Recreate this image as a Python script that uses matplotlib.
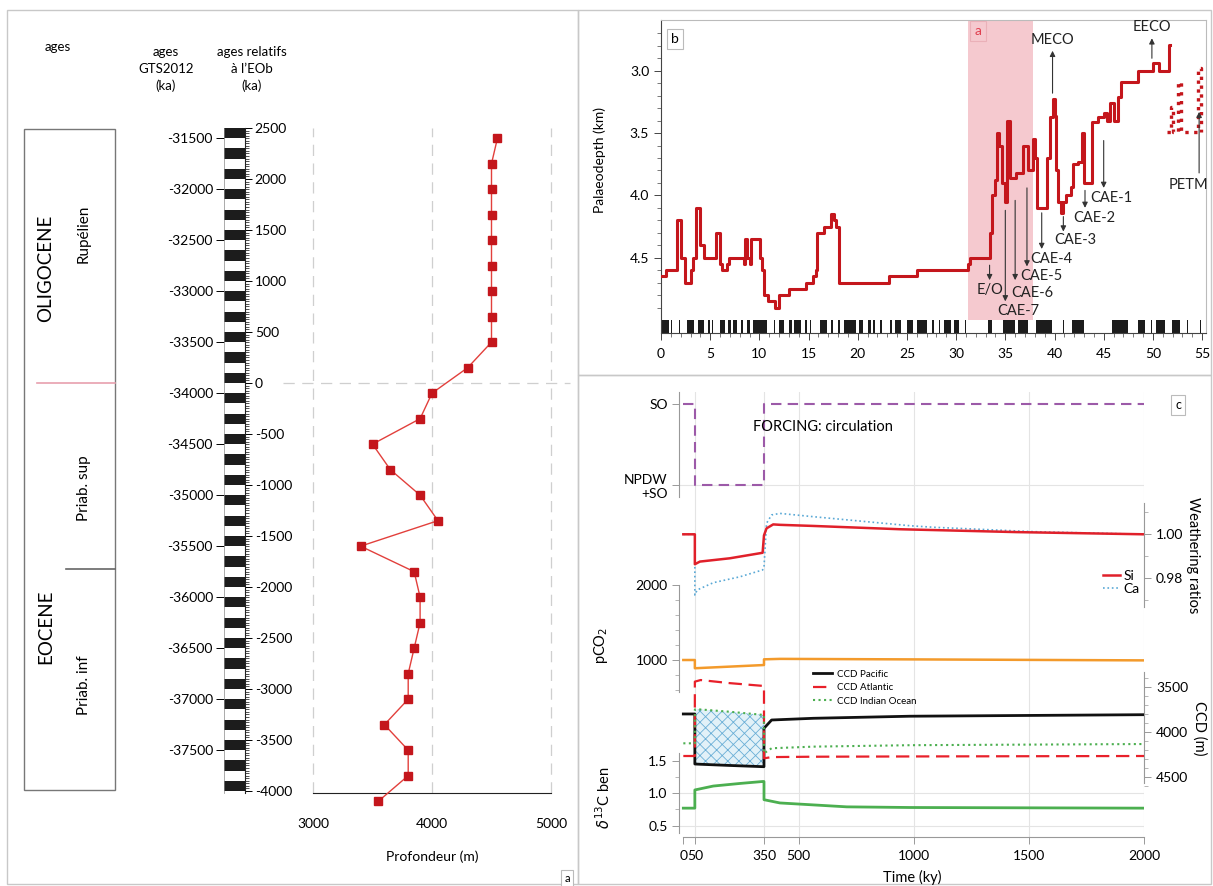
import matplotlib
matplotlib.use('Agg')
import matplotlib.pyplot as plt
from matplotlib.patches import Rectangle
from matplotlib.lines import Line2D
from matplotlib.ticker import FixedLocator, FormatStrFormatter

plt.rcParams['font.family'] = ['Lato', 'DejaVu Sans']
plt.rcParams['font.size'] = 10
plt.rcParams['axes.unicode_minus'] = False
plt.rcParams['hatch.linewidth'] = 0.6

# ---- panel a : depth vs relative age ----
rel_age = [2400, 2150, 1900, 1650, 1400, 1150, 900, 650, 400, 150, -100, -350, -600, -850,
           -1100, -1350, -1600, -1850, -2100, -2350, -2600, -2850, -3100, -3350, -3600, -3850, -4100]
depth_m = [4550, 4500, 4500, 4500, 4500, 4500, 4500, 4500, 4500, 4300, 4000, 3900, 3500, 3650,
           3900, 4050, 3400, 3850, 3900, 3900, 3850, 3800, 3800, 3600, 3800, 3800, 3550]
rel_ticks = [2500, 2000, 1500, 1000, 500, 0, -500, -1000, -1500, -2000, -2500, -3000, -3500, -4000]
gts_ticks = [-31500, -32000, -32500, -33000, -33500, -34000, -34500, -35000, -35500, -36000,
             -36500, -37000, -37500, -38000]
gts_offset = 33900
# tops of the black bands of the cycle ruler (100 ka thick)
cycle_tops = [2500, 2300, 2100, 1900, 1700, 1500, 1300, 1100, 900, 700, 500, 300, 100, -100,
              -300, -500, -700, -900, -1100, -1300, -1500, -1700, -1900, -2100, -2300, -2500,
              -2700, -2900, -3100, -3300, -3500, -3700, -3900]

# ---- panel b : palaeodepth ----
age_ma = [0.0, 0.5, 1.6, 2.05, 2.4, 3.0, 3.25, 3.6, 4.0, 4.4, 5.6, 6.0, 6.2, 6.7, 6.9, 8.4, 8.55,
          8.75, 9.0, 9.15, 10.1, 10.25, 10.45, 10.9, 11.6, 12.0, 13.0, 14.7, 15.5, 15.75, 15.9,
          16.6, 17.3, 17.6, 17.8, 18.1, 23.2, 26.0, 31.2, 31.4, 33.4, 33.6, 34.0, 34.2, 34.4,
          34.7, 34.95, 35.2, 35.5, 36.1, 36.8, 37.3, 37.8, 38.0, 38.2, 39.2, 39.5, 39.8, 40.0,
          40.2, 40.4, 40.7, 40.9, 41.2, 41.7, 41.9, 42.4, 42.8, 42.95, 43.8, 44.4, 45.0, 45.3,
          45.6, 46.0, 46.5, 46.8, 48.5, 50.0, 50.6, 51.6, 51.75]
pdepth_km = [4.65, 4.60, 4.20, 4.50, 4.70, 4.60, 4.50, 4.10, 4.40, 4.50, 4.30, 4.55, 4.60, 4.55,
             4.50, 4.55, 4.35, 4.50, 4.55, 4.35, 4.50, 4.60, 4.80, 4.85, 4.90, 4.80, 4.75, 4.70,
             4.65, 4.60, 4.30, 4.25, 4.15, 4.20, 4.25, 4.70, 4.65, 4.60, 4.55, 4.50, 4.30, 4.00,
             3.88, 3.50, 3.60, 3.90, 4.05, 3.40, 3.86, 3.82, 3.60, 3.80, 3.55, 3.70, 4.10, 3.70,
             3.37, 3.23, 3.36, 3.80, 4.05, 4.14, 4.05, 4.00, 3.93, 3.75, 3.73, 3.50, 3.90, 3.41,
             3.37, 3.34, 3.40, 3.26, 3.40, 3.21, 3.09, 3.00, 2.94, 3.00, 2.79, 2.79]
petm_age = [51.4, 51.8, 51.8, 52.0, 52.0, 52.6, 52.6, 52.9, 52.9, 54.6, 54.6, 54.9, 54.9]
petm_depth = [3.49, 3.49, 3.29, 3.29, 3.49, 3.49, 3.09, 3.09, 3.49, 3.49, 2.98, 2.98, 3.49]
normal_chrons = [(0.0, 0.85), (1.0, 1.1), (1.8, 1.95), (2.6, 3.0), (3.1, 3.4), (3.75, 4.4),
                 (4.8, 5.0), (5.2, 5.3), (6.0, 6.5), (6.8, 7.1), (7.3, 7.7), (8.1, 8.3),
                 (8.7, 9.0), (9.4, 10.8), (11.5, 11.6), (12.0, 12.5), (13.0, 13.3), (13.5, 14.2),
                 (14.6, 14.8), (15.1, 15.2), (16.2, 16.9), (17.3, 17.5), (18.0, 18.2), (18.6, 19.8),
                 (20.1, 20.5), (21.0, 21.3), (21.6, 21.8), (22.3, 22.5), (23.3, 23.5), (23.8, 24.4),
                 (25.0, 25.6), (26.0, 27.0), (27.5, 27.8), (28.3, 28.4), (28.8, 29.5), (29.8, 30.3),
                 (30.9, 31.0), (33.2, 33.6), (34.8, 36.0), (36.3, 37.3), (38.1, 39.7), (40.9, 41.0),
                 (41.8, 43.0), (45.8, 47.5), (48.5, 49.2), (49.8, 49.9), (50.3, 51.2), (51.9, 52.8),
                 (53.5, 53.6), (54.8, 54.9)]
event_span = (31.2, 37.8)
# label, arrow age, arrow from, arrow to, text age, text depth
events = [('MECO', 39.8, 3.18, 2.84, 39.8, 2.75),
          ('EECO', 49.9, 2.90, 2.74, 49.9, 2.65),
          ('PETM', 54.7, 3.82, 3.33, 53.6, 3.92),
          ('CAE-1', 45.0, 3.56, 3.94, 45.8, 4.02),
          ('CAE-2', 43.1, 3.96, 4.10, 44.0, 4.18),
          ('CAE-3', 40.9, 4.17, 4.29, 42.1, 4.36),
          ('CAE-4', 38.7, 4.14, 4.43, 39.7, 4.51),
          ('CAE-5', 37.2, 3.94, 4.57, 38.7, 4.65),
          ('CAE-6', 36.0, 4.04, 4.68, 37.7, 4.78),
          ('E/O', 33.4, 4.56, 4.68, 33.4, 4.76),
          ('CAE-7', 35.0, 4.12, 4.85, 36.3, 4.93)]

# ---- panel c : model experiment ----
circ_t = [0, 50, 50, 350, 350, 2000]
circ_state = [1, 1, 0, 0, 1, 1]
si_t = [0, 50, 50, 72, 202, 344, 350, 361, 390, 420, 564, 940, 1446, 2000]
si_ratio = [1.000, 1.000, 0.9864, 0.9876, 0.9891, 0.9916, 0.9995, 1.0027, 1.0045, 1.0043,
            1.0038, 1.0023, 1.0010, 1.0000]
ca_t = [0, 50, 50, 60, 130, 246, 344, 350, 361, 383, 419, 564, 983, 1085, 1519, 2000]
ca_ratio = [1.000, 1.000, 0.9724, 0.9747, 0.9780, 0.9807, 0.9838, 0.9850, 1.0050, 1.0088,
            1.0095, 1.0080, 1.0039, 1.0032, 1.0012, 1.0000]
co2_t = [0, 50, 50, 350, 350, 420, 1000, 2000]
pco2 = [1000, 1000, 890, 933, 1009, 1015, 1008, 995]
ccd_t = [0, 50, 50, 75, 200, 350, 350, 383, 564, 983, 2000]
ccd_pacific = [3803, 3803, 4359, 4362, 4375, 4389, 3962, 3870, 3851, 3828, 3811]
ccd_atlantic = [4270, 4270, 3444, 3426, 3460, 3492, 4296, 4282, 4278, 4275, 4270]
ccd_indian = [4129, 4129, 3753, 3753, 3778, 3814, 4240, 4184, 4166, 4150, 4137]
d13c_t = [0, 50, 50, 130, 246, 344, 350, 350, 419, 564, 709, 983, 2000]
d13c = [0.77, 0.77, 1.05, 1.11, 1.15, 1.18, 1.18, 0.90, 0.85, 0.82, 0.79, 0.78, 0.77]
time_ticks = [0, 50, 350, 500, 1000, 1500, 2000]

W, H = 1213, 886


def fx(px):
    return px / W


def fy(py):
    return 1 - py / H


def box(x0, y0, x1, y1):
    return [fx(x0), fy(y1), (x1 - x0) / W, (y1 - y0) / H]


def lim_for(v1, p1, v2, p2, top=392, bottom=837):
    # y limits so that value v1 sits at pixel row p1 and v2 at p2
    b = (p2 - p1) / (v2 - v1)
    return (bottom - p1) / b + v1, (top - p1) / b + v1


def val_at(v1, p1, v2, p2, p):
    b = (p2 - p1) / (v2 - v1)
    return (p - p1) / b + v1


fig = plt.figure(figsize=(W / 100, H / 100), dpi=100)

# panel frames
frame_c = '#c8c8c8'
fig.add_artist(Rectangle((fx(7), fy(884)), fx(578) - fx(7), (884 - 10) / H,
                         transform=fig.transFigure, fill=False, ec=frame_c, lw=1))
fig.add_artist(Rectangle((fx(578), fy(375)), fx(1211) - fx(578), (375 - 10) / H,
                         transform=fig.transFigure, fill=False, ec=frame_c, lw=1))
fig.add_artist(Rectangle((fx(578), fy(884)), fx(1211) - fx(578), (884 - 375) / H,
                         transform=fig.transFigure, fill=False, ec=frame_c, lw=1))

# ---------------- left panel ----------------
fig.text(fx(58), fy(47), 'ages', ha='center', va='center', fontsize=9.5)
fig.text(fx(166), fy(69), 'ages\nGTS2012\n(ka)', ha='center', va='center', fontsize=9.5,
         linespacing=1.5)
fig.text(fx(252), fy(69), 'ages relatifs\nà l’EOb\n(ka)', ha='center', va='center',
         fontsize=9.5, linespacing=1.5)

fig.add_artist(Rectangle((fx(24), fy(790)), fx(115) - fx(24), (790 - 129) / H,
                         transform=fig.transFigure, fill=False, ec='#777777', lw=1))
fig.add_artist(Line2D([fx(37), fx(115)], [fy(383), fy(383)], transform=fig.transFigure,
                      color='#e8a0ae', lw=1.2))
fig.add_artist(Line2D([fx(66), fx(115)], [fy(569), fy(569)], transform=fig.transFigure,
                      color='#666666', lw=1.2))
fig.text(fx(46), fy(268), 'OLIGOCENE', rotation=90, ha='center', va='center', fontsize=13.5)
fig.text(fx(84), fy(234), 'Rupélien', rotation=90, ha='center', va='center', fontsize=11)
fig.text(fx(84), fy(488), 'Priab. sup', rotation=90, ha='center', va='center', fontsize=11)
fig.text(fx(46), fy(627), 'EOCENE', rotation=90, ha='center', va='center', fontsize=13.5)
fig.text(fx(84), fy(685), 'Priab. inf', rotation=90, ha='center', va='center', fontsize=11)

# cycle ruler with the two age scales
axr = fig.add_axes(box(224, 128, 245, 793))
axr.set_ylim(-4020, 2500)
axr.set_xlim(0, 1)
axr.barh([t - 50 for t in cycle_tops], 1, height=100, left=0, color='#1c1c1c', lw=0)
axr.set_xticks([])
for s in ['top', 'bottom']:
    axr.spines[s].set_visible(False)
axr.spines['left'].set_color('#888888')
axr.spines['left'].set_linewidth(0.5)
axr.spines['right'].set_color('#222222')
axr.spines['right'].set_linewidth(0.8)
axr.yaxis.tick_right()
axr.set_yticks(rel_ticks)
axr.yaxis.set_minor_locator(FixedLocator(list(range(-4000, 2501, 25))))
axr.tick_params(axis='y', which='major', length=5, width=0.7, pad=2, labelsize=10)
axr.tick_params(axis='y', which='minor', length=3, width=0.6, color='#333333')
sec = axr.secondary_yaxis('left', functions=(lambda r: r - gts_offset, lambda g: g + gts_offset))
sec.set_yticks(gts_ticks)
sec.spines['left'].set_visible(False)
sec.tick_params(axis='y', length=6, width=0.7, pad=2, labelsize=10)

axl = fig.add_axes(box(313, 128, 551, 793))
axl.set_xlim(3000, 5000)
axl.set_ylim(-4020, 2500)
axl.patch.set_alpha(0)
for d in [3000, 4000, 5000]:
    axl.axvline(d, ls=(0, (9, 6)), color='#cfcfcf', lw=0.9, clip_on=False, zorder=0)
axl.plot([2748, 5160], [0, 0], ls=(0, (9, 6)), color='#cfcfcf', lw=0.9, clip_on=False)
axl.plot(depth_m, rel_age, color='#e2403c', lw=1, marker='s', ms=5.5, mfc='#c4161c',
         mec='#c4161c', clip_on=False, zorder=3)
axl.set_xticks([3000, 4000, 5000])
axl.set_yticks([])
axl.tick_params(axis='x', length=0, pad=18, labelsize=10)
for s in ['left', 'right', 'top']:
    axl.spines[s].set_visible(False)
axl.spines['bottom'].set_color('#222222')
axl.set_xlabel('Profondeur (m)', labelpad=15, fontsize=10)
fig.text(fx(567), fy(879), 'a', ha='center', va='center', fontsize=8,
         bbox=dict(boxstyle='square,pad=0.3', fc='white', ec='#bbbbbb', lw=0.8))

# ---------------- panel b ----------------
axt = fig.add_axes(box(661, 20, 1206, 333))
axt.set_xlim(0, 55.4)
axt.set_ylim(5.104, 2.593)
axt.axvspan(event_span[0], event_span[1], ymin=0.041, ymax=1, color='#f5c9cf', lw=0, zorder=0)
axt.broken_barh([(a, b - a) for a, b in normal_chrons], (5.0, 0.104), facecolors='#1c1c1c',
                lw=0)
axt.step(age_ma, pdepth_km, where='post', color='#c4161c', lw=2.2, zorder=3)
axt.plot(petm_age, petm_depth, color='#c4161c', lw=2.4, ls=':', zorder=3)
for name, xa, y0, y1, xt, yt in events:
    axt.annotate('', xy=(xa, y1), xytext=(xa, y0),
                 arrowprops=dict(arrowstyle='-|>', color='#333333', lw=0.8,
                                 mutation_scale=8, shrinkA=0, shrinkB=0))
    axt.text(xt, yt, name, ha='center', va='center', fontsize=10.5, color='#222222', zorder=4)
axt.set_xticks(list(range(0, 56, 5)))
axt.xaxis.set_minor_locator(FixedLocator(list(range(0, 56))))
axt.yaxis.set_major_locator(FixedLocator([3.0, 3.5, 4.0, 4.5]))
axt.yaxis.set_major_formatter(FormatStrFormatter('%.1f'))
axt.yaxis.set_minor_locator(FixedLocator([2.7, 2.8, 2.9, 3.1, 3.2, 3.3, 3.4, 3.6, 3.7, 3.8,
                                          3.9, 4.1, 4.2, 4.3, 4.4, 4.6, 4.7, 4.8, 4.9]))
axt.tick_params(which='major', length=5, width=0.7, labelsize=10, color='#444444')
axt.tick_params(which='minor', length=3, width=0.5, color='#444444')
axt.tick_params(axis='x', pad=6)
for s in ['top', 'right']:
    axt.spines[s].set_color('#bbbbbb')
for s in ['left', 'bottom']:
    axt.spines[s].set_color('#444444')
fig.text(fx(600), fy(160), 'Palaeodepth (km)', rotation=90, ha='center', va='center',
         fontsize=10)
fig.text(fx(675), fy(39), 'b', ha='center', va='center', fontsize=10,
         bbox=dict(boxstyle='square,pad=0.3', fc='white', ec='#bbbbbb', lw=0.8))
fig.text(fx(978), fy(31), 'a', ha='center', va='center', fontsize=10, color='#e04050',
         bbox=dict(boxstyle='square,pad=0.3', fc='#f5c9cf', ec='#eab0b8', lw=0.8))

# ---------------- panel c ----------------
rect = box(679.4, 392, 1144.3, 837)
grid_c = '#e4e4e4'

axc = fig.add_axes(rect)
axc.set_xlim(-17, 2000)
axc.set_ylim(*lim_for(1, 404, 0, 485))
axc.patch.set_alpha(0)
for t in time_ticks[1:]:
    axc.axvline(t, color=grid_c, lw=0.8, zorder=0)
axc.axhline(0, color=grid_c, lw=0.8, zorder=0)
axc.plot(circ_t, circ_state, color='#9c5aa8', lw=1.5, ls=(0, (5, 3)))
axc.set_yticks([0, 1])
axc.set_yticklabels(['NPDW\n+SO', 'SO'])
axc.spines['left'].set_bounds(val_at(1, 404, 0, 485, 497), val_at(1, 404, 0, 485, 392))
axc.spines['bottom'].set_bounds(0, 2000)
for s in ['top', 'right']:
    axc.spines[s].set_visible(False)
for s in ['left', 'bottom']:
    axc.spines[s].set_color('#999999')
axc.set_xticks(time_ticks)
axc.tick_params(length=5, width=0.7, labelsize=10, color='#999999')
axc.tick_params(axis='x', pad=4)
fig.text(fx(823), fy(427), 'FORCING: circulation', ha='center', va='center', fontsize=10.5)


def overlay(side, v1, p1, v2, p2, ptop, pbot):
    ax = fig.add_axes(rect, sharex=axc, label=f'{side}{v1}')
    ax.patch.set_alpha(0)
    ax.set_ylim(*lim_for(v1, p1, v2, p2))
    ax.xaxis.set_visible(False)
    for s in ['top', 'bottom', 'left', 'right']:
        if s != side:
            ax.spines[s].set_visible(False)
    ax.spines[side].set_color('#999999')
    ax.spines[side].set_bounds(val_at(v1, p1, v2, p2, pbot), val_at(v1, p1, v2, p2, ptop))
    if side == 'right':
        ax.yaxis.tick_right()
    ax.tick_params(which='major', length=5, width=0.7, labelsize=10, color='#999999')
    ax.tick_params(which='minor', length=3, width=0.5, color='#999999')
    return ax


axw = overlay('right', 1.00, 534.3, 0.98, 578.3, 503, 607)
axw.plot(ca_t, ca_ratio, color='#5aa9d6', lw=1.2, ls=':', label='Ca')
axw.plot(si_t, si_ratio, color='#e0202a', lw=1.8, label='Si')
axw.yaxis.set_major_locator(FixedLocator([0.98, 1.00]))
axw.yaxis.set_major_formatter(FormatStrFormatter('%.2f'))
axw.yaxis.set_minor_locator(FixedLocator([0.97, 0.99, 1.01]))
h, lab = axw.get_legend_handles_labels()
axw.legend(h[::-1], lab[::-1], loc='upper left', bbox_to_anchor=(fx(1096), fy(563)),
           bbox_transform=fig.transFigure, frameon=False, fontsize=10, handlelength=1.2,
           handletextpad=0.3, labelspacing=0.1, borderpad=0)
fig.text(fx(1193), fy(555), 'Weathering ratios', rotation=270, ha='center', va='center',
         fontsize=10.5)

axp = overlay('left', 2000, 585, 1000, 660, 585, 692)
axp.plot(co2_t, pco2, color='#f39a2b', lw=1.8)
axp.yaxis.set_major_locator(FixedLocator([1000, 2000]))
axp.yaxis.set_minor_locator(FixedLocator([600, 800, 1200, 1400, 1600, 1800]))
fig.text(fx(601), fy(645), 'pCO$_2$', rotation=90, ha='center', va='center', fontsize=10.5)

axk = overlay('right', 3500, 686.7, 4000, 731.7, 672, 783)
mask = [False, False, True, True, True, True, False, False, False, False, False]
axk.fill_between(ccd_t, ccd_pacific, ccd_indian, where=mask, facecolor='#e2f1f8',
                 edgecolor='#6aaed6', hatch='xxx', lw=0, zorder=1)
l_pac, = axk.plot(ccd_t, ccd_pacific, color='#111111', lw=2, zorder=3)
l_atl, = axk.plot(ccd_t, ccd_atlantic, color='#e8202a', lw=1.6, ls=(0, (6, 3)), zorder=3)
l_ind, = axk.plot(ccd_t, ccd_indian, color='#4caf50', lw=1.5, ls=':', zorder=3)
axk.yaxis.set_major_locator(FixedLocator([3500, 4000, 4500]))
axk.yaxis.set_minor_locator(FixedLocator([3400, 3600, 3700, 3800, 3900, 4100, 4200, 4300,
                                          4400, 4600]))
axk.legend([l_pac, l_atl, l_ind], ['CCD Pacific', 'CCD Atlantic', 'CCD Indian Ocean'],
           loc='upper left', bbox_to_anchor=(fx(808), fy(665)), bbox_transform=fig.transFigure,
           frameon=False, fontsize=7, handlelength=2.0, handletextpad=0.5, labelspacing=0.45,
           borderpad=0)
fig.text(fx(1199), fy(728), 'CCD (m)', rotation=270, ha='center', va='center', fontsize=10.5)

axd = overlay('left', 1.5, 760.7, 0.5, 825.7, 753, 833)
axd.axhline(0.5, color=grid_c, lw=0.8, zorder=0)
axd.axhline(1.0, color=grid_c, lw=0.8, zorder=0)
axd.plot(d13c_t, d13c, color='#4caf50', lw=2)
axd.yaxis.set_major_locator(FixedLocator([0.5, 1.0, 1.5]))
axd.yaxis.set_major_formatter(FormatStrFormatter('%.1f'))
axd.yaxis.set_minor_locator(FixedLocator([0.75, 1.25]))
fig.text(fx(604), fy(798), r'$\delta^{13}$C ben', rotation=90, ha='center', va='center',
         fontsize=10.5)

fig.text(fx(912), fy(877), 'Time (ky)', ha='center', va='center', fontsize=10.5)
fig.text(fx(1178), fy(405), 'c', ha='center', va='center', fontsize=9,
         bbox=dict(boxstyle='square,pad=0.35', fc='white', ec='#bbbbbb', lw=0.8))

fig.savefig('out.png', dpi=100)
